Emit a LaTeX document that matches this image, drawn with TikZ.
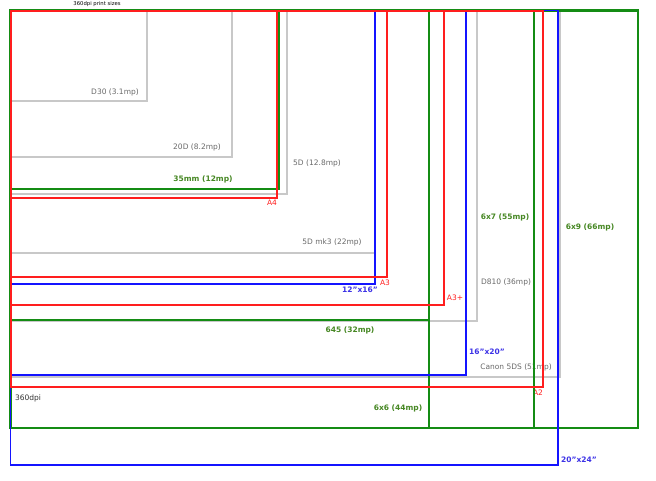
\documentclass[tikz,border=0pt]{standalone}
\usepackage{fontspec}
\setmainfont{DejaVu Sans}
\definecolor{lgray}{RGB}{200,200,200}
\definecolor{tgray}{RGB}{105,105,105}
\definecolor{lgreen}{RGB}{20,140,20}
\definecolor{tgreen}{RGB}{70,135,35}
\definecolor{lred}{RGB}{255,30,30}
\definecolor{lblue}{RGB}{20,20,255}
\definecolor{tblue}{RGB}{60,50,230}
\tikzset{
  graybox/.style={draw=lgray, line width=1.5pt},
  greenbox/.style={draw=lgreen, line width=2.6pt},
  redbox/.style={draw=lred, line width=1.6pt},
  bluebox/.style={draw=lblue, line width=1.6pt},
  lab/.style={inner sep=0pt, font=\fontsize{7.5}{9}\selectfont},
  glab/.style={lab, text=tgray},
  gnlab/.style={lab, text=tgreen, font=\fontsize{7.5}{9}\selectfont\bfseries},
  rlab/.style={lab, text=lred},
  blab/.style={lab, text=tblue, font=\fontsize{7.5}{9}\selectfont\bfseries},
}
\begin{document}
\begin{tikzpicture}[x=1pt,y=-1pt]
\useasboundingbox (0,0) rectangle (656,480);
% labels (drawn first, lines may overlap)
\node[lab, text=black, font=\fontsize{5.3}{6}\selectfont] (title) at (97,4) {360dpi print sizes};
\node[glab] (d30) at (115,92) {D30 (3.1mp)};
\node[glab] (d20) at (197,147.5) {20D (8.2mp)};
\node[gnlab] (m35) at (203,179) {35mm (12mp)};
\node[glab] (d5) at (317,163) {5D (12.8mp)};
\node[rlab] (a4) at (272,203) {A4};
\node[glab] (mk3) at (332,242.5) {5D mk3 (22mp)};
\node[rlab] (a3) at (385,282.5) {A3};
\node[blab] (b1216) at (360,290) {12"x16"};
\node[rlab] (a3p) at (455,298) {A3+};
\node[gnlab] (m645) at (350,330) {645 (32mp)};
\node[gnlab] (m67) at (505,217.5) {6x7 (55mp)};
\node[glab] (d810) at (506,282.5) {D810 (36mp)};
\node[gnlab] (m69) at (590,227.5) {6x9 (66mp)};
\node[blab] (b1620) at (487,351.5) {16"x20"};
\node[glab] (c5ds) at (516,367) {Canon 5DS (51mp)};
\node[rlab] (a2) at (538,392.5) {A2};
\node[gnlab] (m66) at (398,408.5) {6x6 (44mp)};
\node[lab, text=black!80] (dpi) at (28,398) {360dpi};
\node[blab] (b2024) at (579,460) {20"x24"};
% gray camera sensors
\draw[graybox] (10.5,10.5) rectangle (147,101);
\draw[graybox] (10.5,10.5) rectangle (232,157);
\draw[graybox] (10.5,10.5) rectangle (287,194);
\draw[graybox] (10.5,10.5) rectangle (375,253);
\draw[graybox] (10.5,10.5) rectangle (477,321);
\draw[graybox] (10.5,10.5) rectangle (560,377);
% green film formats
\draw[greenbox] (10.5,10.5) rectangle (279,189);
\draw[greenbox] (10.5,10.5) rectangle (429,320);
\draw[greenbox] (10.5,10.5) rectangle (429,428);
\draw[greenbox] (10.5,10.5) rectangle (534,428);
\draw[greenbox] (10.5,10.5) rectangle (638,428);
% blue inch prints
\draw[bluebox] (10.5,10.5) rectangle (375,284);
\draw[bluebox] (10.5,10.5) rectangle (466,375);
\draw[bluebox] (10.5,10.5) rectangle (558,465);
% red paper sizes
\draw[redbox] (11,11) rectangle (277,198);
\draw[redbox] (11,11) rectangle (387,277);
\draw[redbox] (11,11) rectangle (444,305);
\draw[redbox] (11,11) rectangle (543,387);
\end{tikzpicture}
\end{document}
